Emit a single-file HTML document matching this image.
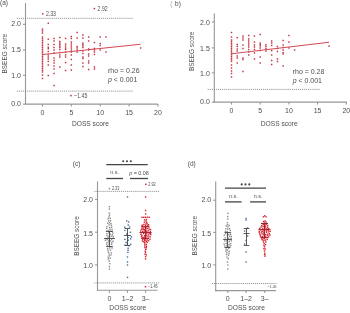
<!DOCTYPE html>
<html><head><meta charset="utf-8"><style>
html,body{margin:0;padding:0;background:#fff;width:350px;height:313px;overflow:hidden}
svg{display:block;filter:blur(0.3px)}
text{font-family:"Liberation Sans",sans-serif}
</style></head><body>
<svg width="350" height="313" viewBox="0 0 350 313">
<text font-size="7.5" text-anchor="start" fill="#4e4e4e" transform="translate(0.00,5.30) scale(0.875,1)">(a)</text>
<line x1="25.50" y1="3.00" x2="25.50" y2="104.65" stroke="#979797" stroke-width="1.1" />
<line x1="24.95" y1="104.10" x2="157.80" y2="104.10" stroke="#979797" stroke-width="1.1" />
<line x1="23.00" y1="24.30" x2="25.50" y2="24.30" stroke="#979797" stroke-width="1.1" />
<text font-size="8" text-anchor="end" fill="#4e4e4e" transform="translate(21.00,26.45) scale(0.875,1)">2.0</text>
<line x1="23.00" y1="50.00" x2="25.50" y2="50.00" stroke="#979797" stroke-width="1.1" />
<text font-size="8" text-anchor="end" fill="#4e4e4e" transform="translate(21.00,52.35) scale(0.875,1)">1.5</text>
<line x1="23.00" y1="75.20" x2="25.50" y2="75.20" stroke="#979797" stroke-width="1.1" />
<text font-size="8" text-anchor="end" fill="#4e4e4e" transform="translate(21.00,78.30) scale(0.875,1)">1.0</text>
<line x1="23.00" y1="104.10" x2="25.50" y2="104.10" stroke="#979797" stroke-width="1.1" />
<text font-size="8" text-anchor="end" fill="#4e4e4e" transform="translate(21.00,106.30) scale(0.875,1)">0.0</text>
<line x1="42.50" y1="104.10" x2="42.50" y2="106.60" stroke="#979797" stroke-width="1.1" />
<text font-size="8" text-anchor="middle" fill="#4e4e4e" transform="translate(42.50,115.20) scale(0.875,1)">0</text>
<line x1="71.35" y1="104.10" x2="71.35" y2="106.60" stroke="#979797" stroke-width="1.1" />
<text font-size="8" text-anchor="middle" fill="#4e4e4e" transform="translate(71.35,115.20) scale(0.875,1)">5</text>
<line x1="100.20" y1="104.10" x2="100.20" y2="106.60" stroke="#979797" stroke-width="1.1" />
<text font-size="8" text-anchor="middle" fill="#4e4e4e" transform="translate(100.20,115.20) scale(0.875,1)">10</text>
<line x1="129.05" y1="104.10" x2="129.05" y2="106.60" stroke="#979797" stroke-width="1.1" />
<text font-size="8" text-anchor="middle" fill="#4e4e4e" transform="translate(129.05,115.20) scale(0.875,1)">15</text>
<line x1="157.90" y1="104.10" x2="157.90" y2="106.60" stroke="#979797" stroke-width="1.1" />
<text font-size="8" text-anchor="middle" fill="#4e4e4e" transform="translate(157.90,115.20) scale(0.875,1)">20</text>
<line x1="16.80" y1="18.30" x2="133.00" y2="18.30" stroke="#8a8a8a" stroke-width="0.9" stroke-dasharray="1.15 0.9"/>
<line x1="16.80" y1="91.10" x2="133.00" y2="91.10" stroke="#8a8a8a" stroke-width="0.9" stroke-dasharray="1.15 0.9"/>
<rect x="41.78" y="28.48" width="1.44" height="1.44" fill="#c4303e"/>
<rect x="41.78" y="30.28" width="1.44" height="1.44" fill="#c4303e"/>
<rect x="41.78" y="32.28" width="1.44" height="1.44" fill="#c4303e"/>
<rect x="41.78" y="36.28" width="1.44" height="1.44" fill="#c4303e"/>
<rect x="41.78" y="38.03" width="1.44" height="1.44" fill="#c4303e"/>
<rect x="41.78" y="39.78" width="1.44" height="1.44" fill="#c4303e"/>
<rect x="41.78" y="41.53" width="1.44" height="1.44" fill="#c4303e"/>
<rect x="41.78" y="43.28" width="1.44" height="1.44" fill="#c4303e"/>
<rect x="41.78" y="45.03" width="1.44" height="1.44" fill="#c4303e"/>
<rect x="41.78" y="46.78" width="1.44" height="1.44" fill="#c4303e"/>
<rect x="41.78" y="48.53" width="1.44" height="1.44" fill="#c4303e"/>
<rect x="41.78" y="50.28" width="1.44" height="1.44" fill="#c4303e"/>
<rect x="41.78" y="52.03" width="1.44" height="1.44" fill="#c4303e"/>
<rect x="41.78" y="53.78" width="1.44" height="1.44" fill="#c4303e"/>
<rect x="41.78" y="55.53" width="1.44" height="1.44" fill="#c4303e"/>
<rect x="41.78" y="57.28" width="1.44" height="1.44" fill="#c4303e"/>
<rect x="41.78" y="59.03" width="1.44" height="1.44" fill="#c4303e"/>
<rect x="41.78" y="60.78" width="1.44" height="1.44" fill="#c4303e"/>
<rect x="41.78" y="62.53" width="1.44" height="1.44" fill="#c4303e"/>
<rect x="41.78" y="64.28" width="1.44" height="1.44" fill="#c4303e"/>
<rect x="41.78" y="66.03" width="1.44" height="1.44" fill="#c4303e"/>
<rect x="41.78" y="67.78" width="1.44" height="1.44" fill="#c4303e"/>
<rect x="41.78" y="69.53" width="1.44" height="1.44" fill="#c4303e"/>
<rect x="41.78" y="71.28" width="1.44" height="1.44" fill="#c4303e"/>
<rect x="41.78" y="74.28" width="1.44" height="1.44" fill="#c4303e"/>
<rect x="41.78" y="77.78" width="1.44" height="1.44" fill="#c4303e"/>
<rect x="47.55" y="22.48" width="1.44" height="1.44" fill="#c4303e"/>
<rect x="47.55" y="38.48" width="1.44" height="1.44" fill="#c4303e"/>
<rect x="47.55" y="43.78" width="1.44" height="1.44" fill="#c4303e"/>
<rect x="47.55" y="46.58" width="1.44" height="1.44" fill="#c4303e"/>
<rect x="47.55" y="47.98" width="1.44" height="1.44" fill="#c4303e"/>
<rect x="47.55" y="50.78" width="1.44" height="1.44" fill="#c4303e"/>
<rect x="47.55" y="54.28" width="1.44" height="1.44" fill="#c4303e"/>
<rect x="47.55" y="56.28" width="1.44" height="1.44" fill="#c4303e"/>
<rect x="47.55" y="58.28" width="1.44" height="1.44" fill="#c4303e"/>
<rect x="47.55" y="60.78" width="1.44" height="1.44" fill="#c4303e"/>
<rect x="47.55" y="64.28" width="1.44" height="1.44" fill="#c4303e"/>
<rect x="47.55" y="74.78" width="1.44" height="1.44" fill="#c4303e"/>
<rect x="53.32" y="37.78" width="1.44" height="1.44" fill="#c4303e"/>
<rect x="53.32" y="40.28" width="1.44" height="1.44" fill="#c4303e"/>
<rect x="53.32" y="43.78" width="1.44" height="1.44" fill="#c4303e"/>
<rect x="53.32" y="46.78" width="1.44" height="1.44" fill="#c4303e"/>
<rect x="53.32" y="49.28" width="1.44" height="1.44" fill="#c4303e"/>
<rect x="53.32" y="52.28" width="1.44" height="1.44" fill="#c4303e"/>
<rect x="53.32" y="57.28" width="1.44" height="1.44" fill="#c4303e"/>
<rect x="53.32" y="59.78" width="1.44" height="1.44" fill="#c4303e"/>
<rect x="53.32" y="62.28" width="1.44" height="1.44" fill="#c4303e"/>
<rect x="53.32" y="65.28" width="1.44" height="1.44" fill="#c4303e"/>
<rect x="53.32" y="68.28" width="1.44" height="1.44" fill="#c4303e"/>
<rect x="53.32" y="72.78" width="1.44" height="1.44" fill="#c4303e"/>
<rect x="53.32" y="84.78" width="1.44" height="1.44" fill="#c4303e"/>
<rect x="59.09" y="36.78" width="1.44" height="1.44" fill="#c4303e"/>
<rect x="59.09" y="40.78" width="1.44" height="1.44" fill="#c4303e"/>
<rect x="59.09" y="42.28" width="1.44" height="1.44" fill="#c4303e"/>
<rect x="59.09" y="43.78" width="1.44" height="1.44" fill="#c4303e"/>
<rect x="59.09" y="45.28" width="1.44" height="1.44" fill="#c4303e"/>
<rect x="59.09" y="46.78" width="1.44" height="1.44" fill="#c4303e"/>
<rect x="59.09" y="48.78" width="1.44" height="1.44" fill="#c4303e"/>
<rect x="59.09" y="51.78" width="1.44" height="1.44" fill="#c4303e"/>
<rect x="59.09" y="54.28" width="1.44" height="1.44" fill="#c4303e"/>
<rect x="59.09" y="56.28" width="1.44" height="1.44" fill="#c4303e"/>
<rect x="59.09" y="66.28" width="1.44" height="1.44" fill="#c4303e"/>
<rect x="64.86" y="37.68" width="1.44" height="1.44" fill="#c4303e"/>
<rect x="64.86" y="43.28" width="1.44" height="1.44" fill="#c4303e"/>
<rect x="64.86" y="45.28" width="1.44" height="1.44" fill="#c4303e"/>
<rect x="64.86" y="47.28" width="1.44" height="1.44" fill="#c4303e"/>
<rect x="64.86" y="48.78" width="1.44" height="1.44" fill="#c4303e"/>
<rect x="64.86" y="51.28" width="1.44" height="1.44" fill="#c4303e"/>
<rect x="64.86" y="54.28" width="1.44" height="1.44" fill="#c4303e"/>
<rect x="64.86" y="56.28" width="1.44" height="1.44" fill="#c4303e"/>
<rect x="64.86" y="61.78" width="1.44" height="1.44" fill="#c4303e"/>
<rect x="64.86" y="69.78" width="1.44" height="1.44" fill="#c4303e"/>
<rect x="70.63" y="35.78" width="1.44" height="1.44" fill="#c4303e"/>
<rect x="70.63" y="37.78" width="1.44" height="1.44" fill="#c4303e"/>
<rect x="70.63" y="41.28" width="1.44" height="1.44" fill="#c4303e"/>
<rect x="70.63" y="43.28" width="1.44" height="1.44" fill="#c4303e"/>
<rect x="70.63" y="45.28" width="1.44" height="1.44" fill="#c4303e"/>
<rect x="70.63" y="47.28" width="1.44" height="1.44" fill="#c4303e"/>
<rect x="70.63" y="49.28" width="1.44" height="1.44" fill="#c4303e"/>
<rect x="70.63" y="51.28" width="1.44" height="1.44" fill="#c4303e"/>
<rect x="70.63" y="54.28" width="1.44" height="1.44" fill="#c4303e"/>
<rect x="70.63" y="58.78" width="1.44" height="1.44" fill="#c4303e"/>
<rect x="70.63" y="64.28" width="1.44" height="1.44" fill="#c4303e"/>
<rect x="70.63" y="69.28" width="1.44" height="1.44" fill="#c4303e"/>
<rect x="76.40" y="31.78" width="1.44" height="1.44" fill="#c4303e"/>
<rect x="76.40" y="37.28" width="1.44" height="1.44" fill="#c4303e"/>
<rect x="76.40" y="45.78" width="1.44" height="1.44" fill="#c4303e"/>
<rect x="76.40" y="47.28" width="1.44" height="1.44" fill="#c4303e"/>
<rect x="76.40" y="49.28" width="1.44" height="1.44" fill="#c4303e"/>
<rect x="76.40" y="51.28" width="1.44" height="1.44" fill="#c4303e"/>
<rect x="82.17" y="34.28" width="1.44" height="1.44" fill="#c4303e"/>
<rect x="82.17" y="37.28" width="1.44" height="1.44" fill="#c4303e"/>
<rect x="82.17" y="42.28" width="1.44" height="1.44" fill="#c4303e"/>
<rect x="82.17" y="43.78" width="1.44" height="1.44" fill="#c4303e"/>
<rect x="82.17" y="45.28" width="1.44" height="1.44" fill="#c4303e"/>
<rect x="82.17" y="46.78" width="1.44" height="1.44" fill="#c4303e"/>
<rect x="82.17" y="50.28" width="1.44" height="1.44" fill="#c4303e"/>
<rect x="82.17" y="52.78" width="1.44" height="1.44" fill="#c4303e"/>
<rect x="82.17" y="56.28" width="1.44" height="1.44" fill="#c4303e"/>
<rect x="82.17" y="57.78" width="1.44" height="1.44" fill="#c4303e"/>
<rect x="82.17" y="62.28" width="1.44" height="1.44" fill="#c4303e"/>
<rect x="82.17" y="65.78" width="1.44" height="1.44" fill="#c4303e"/>
<rect x="87.94" y="36.28" width="1.44" height="1.44" fill="#c4303e"/>
<rect x="87.94" y="40.28" width="1.44" height="1.44" fill="#c4303e"/>
<rect x="87.94" y="48.28" width="1.44" height="1.44" fill="#c4303e"/>
<rect x="87.94" y="49.28" width="1.44" height="1.44" fill="#c4303e"/>
<rect x="87.94" y="53.28" width="1.44" height="1.44" fill="#c4303e"/>
<rect x="87.94" y="55.28" width="1.44" height="1.44" fill="#c4303e"/>
<rect x="87.94" y="60.28" width="1.44" height="1.44" fill="#c4303e"/>
<rect x="87.94" y="62.28" width="1.44" height="1.44" fill="#c4303e"/>
<rect x="87.94" y="68.78" width="1.44" height="1.44" fill="#c4303e"/>
<rect x="93.71" y="41.78" width="1.44" height="1.44" fill="#c4303e"/>
<rect x="93.71" y="47.78" width="1.44" height="1.44" fill="#c4303e"/>
<rect x="93.71" y="49.28" width="1.44" height="1.44" fill="#c4303e"/>
<rect x="93.71" y="51.28" width="1.44" height="1.44" fill="#c4303e"/>
<rect x="93.71" y="53.78" width="1.44" height="1.44" fill="#c4303e"/>
<rect x="93.71" y="66.28" width="1.44" height="1.44" fill="#c4303e"/>
<rect x="93.71" y="68.28" width="1.44" height="1.44" fill="#c4303e"/>
<rect x="99.48" y="36.28" width="1.44" height="1.44" fill="#c4303e"/>
<rect x="99.48" y="42.78" width="1.44" height="1.44" fill="#c4303e"/>
<rect x="99.48" y="44.78" width="1.44" height="1.44" fill="#c4303e"/>
<rect x="99.48" y="49.28" width="1.44" height="1.44" fill="#c4303e"/>
<rect x="105.25" y="36.28" width="1.44" height="1.44" fill="#c4303e"/>
<rect x="105.25" y="51.28" width="1.44" height="1.44" fill="#c4303e"/>
<rect x="139.87" y="47.28" width="1.44" height="1.44" fill="#c4303e"/>
<line x1="42.50" y1="54.50" x2="140.59" y2="44.30" stroke="#d44a55" stroke-width="1.05" />
<rect x="41.95" y="13.05" width="1.50" height="1.50" fill="#c4303e"/>
<text font-size="6.5" text-anchor="start" fill="#4e4e4e" transform="translate(45.90,16.00) scale(0.8,1)">2.33</text>
<rect x="93.65" y="7.85" width="1.50" height="1.50" fill="#c4303e"/>
<text font-size="6.5" text-anchor="start" fill="#4e4e4e" transform="translate(97.60,10.80) scale(0.8,1)">2.92</text>
<rect x="70.25" y="94.85" width="1.50" height="1.50" fill="#c4303e"/>
<text font-size="6.5" text-anchor="start" fill="#4e4e4e" transform="translate(74.20,97.80) scale(0.8,1)">−1.45</text>
<text font-size="7.5" text-anchor="start" fill="#4e4e4e" transform="translate(108.00,73.30) scale(0.93,1)">rho = 0.26</text>
<text font-size="7.5" text-anchor="start" fill="#4e4e4e" transform="translate(108.00,81.60) scale(0.93,1)"><tspan font-style="italic">p</tspan> &lt; 0.001</text>
<text font-size="8" text-anchor="middle" fill="#4e4e4e" transform="translate(7.20,53.70) rotate(-90) scale(0.8,1)">BSEEG score</text>
<text font-size="8" text-anchor="middle" fill="#4e4e4e" transform="translate(90.40,126.20) scale(0.83,1)">DOSS score</text>
<text font-size="7.5" text-anchor="start" fill="#aaaaaa" transform="translate(170.30,5.60) scale(0.875,1)">(</text>
<text font-size="7.5" text-anchor="start" fill="#4e4e4e" transform="translate(175.00,5.60) scale(0.875,1)">b)</text>
<line x1="214.30" y1="13.40" x2="214.30" y2="102.65" stroke="#979797" stroke-width="1.1" />
<line x1="213.75" y1="102.10" x2="346.80" y2="102.10" stroke="#979797" stroke-width="1.1" />
<line x1="211.80" y1="22.00" x2="214.30" y2="22.00" stroke="#979797" stroke-width="1.1" />
<text font-size="8" text-anchor="end" fill="#4e4e4e" transform="translate(209.80,24.90) scale(0.875,1)">2.0</text>
<line x1="211.80" y1="47.90" x2="214.30" y2="47.90" stroke="#979797" stroke-width="1.1" />
<text font-size="8" text-anchor="end" fill="#4e4e4e" transform="translate(209.80,50.50) scale(0.875,1)">1.5</text>
<line x1="211.80" y1="72.90" x2="214.30" y2="72.90" stroke="#979797" stroke-width="1.1" />
<text font-size="8" text-anchor="end" fill="#4e4e4e" transform="translate(209.80,76.30) scale(0.875,1)">1.0</text>
<line x1="211.80" y1="102.10" x2="214.30" y2="102.10" stroke="#979797" stroke-width="1.1" />
<text font-size="8" text-anchor="end" fill="#4e4e4e" transform="translate(209.80,104.30) scale(0.875,1)">0.0</text>
<line x1="231.50" y1="102.10" x2="231.50" y2="104.60" stroke="#979797" stroke-width="1.1" />
<text font-size="8" text-anchor="middle" fill="#4e4e4e" transform="translate(231.50,113.20) scale(0.875,1)">0</text>
<line x1="260.20" y1="102.10" x2="260.20" y2="104.60" stroke="#979797" stroke-width="1.1" />
<text font-size="8" text-anchor="middle" fill="#4e4e4e" transform="translate(260.20,113.20) scale(0.875,1)">5</text>
<line x1="288.90" y1="102.10" x2="288.90" y2="104.60" stroke="#979797" stroke-width="1.1" />
<text font-size="8" text-anchor="middle" fill="#4e4e4e" transform="translate(288.90,113.20) scale(0.875,1)">10</text>
<line x1="317.60" y1="102.10" x2="317.60" y2="104.60" stroke="#979797" stroke-width="1.1" />
<text font-size="8" text-anchor="middle" fill="#4e4e4e" transform="translate(317.60,113.20) scale(0.875,1)">15</text>
<line x1="346.30" y1="102.10" x2="346.30" y2="104.60" stroke="#979797" stroke-width="1.1" />
<text font-size="8" text-anchor="middle" fill="#4e4e4e" transform="translate(346.30,113.20) scale(0.875,1)">20</text>
<line x1="207.70" y1="89.40" x2="320.00" y2="89.40" stroke="#8a8a8a" stroke-width="0.9" stroke-dasharray="1.15 0.9"/>
<rect x="230.78" y="31.78" width="1.44" height="1.44" fill="#c4303e"/>
<rect x="230.78" y="36.28" width="1.44" height="1.44" fill="#c4303e"/>
<rect x="230.78" y="39.28" width="1.44" height="1.44" fill="#c4303e"/>
<rect x="230.78" y="40.93" width="1.44" height="1.44" fill="#c4303e"/>
<rect x="230.78" y="42.58" width="1.44" height="1.44" fill="#c4303e"/>
<rect x="230.78" y="44.23" width="1.44" height="1.44" fill="#c4303e"/>
<rect x="230.78" y="45.88" width="1.44" height="1.44" fill="#c4303e"/>
<rect x="230.78" y="47.53" width="1.44" height="1.44" fill="#c4303e"/>
<rect x="230.78" y="49.18" width="1.44" height="1.44" fill="#c4303e"/>
<rect x="230.78" y="50.83" width="1.44" height="1.44" fill="#c4303e"/>
<rect x="230.78" y="52.48" width="1.44" height="1.44" fill="#c4303e"/>
<rect x="230.78" y="54.13" width="1.44" height="1.44" fill="#c4303e"/>
<rect x="230.78" y="55.78" width="1.44" height="1.44" fill="#c4303e"/>
<rect x="230.78" y="57.43" width="1.44" height="1.44" fill="#c4303e"/>
<rect x="230.78" y="59.08" width="1.44" height="1.44" fill="#c4303e"/>
<rect x="230.78" y="60.73" width="1.44" height="1.44" fill="#c4303e"/>
<rect x="230.78" y="64.28" width="1.44" height="1.44" fill="#c4303e"/>
<rect x="230.78" y="67.28" width="1.44" height="1.44" fill="#c4303e"/>
<rect x="230.78" y="70.28" width="1.44" height="1.44" fill="#c4303e"/>
<rect x="230.78" y="72.78" width="1.44" height="1.44" fill="#c4303e"/>
<rect x="230.78" y="76.28" width="1.44" height="1.44" fill="#c4303e"/>
<rect x="236.52" y="36.98" width="1.44" height="1.44" fill="#c4303e"/>
<rect x="236.52" y="43.78" width="1.44" height="1.44" fill="#c4303e"/>
<rect x="236.52" y="45.78" width="1.44" height="1.44" fill="#c4303e"/>
<rect x="236.52" y="48.28" width="1.44" height="1.44" fill="#c4303e"/>
<rect x="236.52" y="50.28" width="1.44" height="1.44" fill="#c4303e"/>
<rect x="236.52" y="55.28" width="1.44" height="1.44" fill="#c4303e"/>
<rect x="236.52" y="57.28" width="1.44" height="1.44" fill="#c4303e"/>
<rect x="236.52" y="62.28" width="1.44" height="1.44" fill="#c4303e"/>
<rect x="242.26" y="35.28" width="1.44" height="1.44" fill="#c4303e"/>
<rect x="242.26" y="37.28" width="1.44" height="1.44" fill="#c4303e"/>
<rect x="242.26" y="39.28" width="1.44" height="1.44" fill="#c4303e"/>
<rect x="242.26" y="44.28" width="1.44" height="1.44" fill="#c4303e"/>
<rect x="242.26" y="47.78" width="1.44" height="1.44" fill="#c4303e"/>
<rect x="242.26" y="57.28" width="1.44" height="1.44" fill="#c4303e"/>
<rect x="242.26" y="58.78" width="1.44" height="1.44" fill="#c4303e"/>
<rect x="242.26" y="70.78" width="1.44" height="1.44" fill="#c4303e"/>
<rect x="248.00" y="34.78" width="1.44" height="1.44" fill="#c4303e"/>
<rect x="248.00" y="38.28" width="1.44" height="1.44" fill="#c4303e"/>
<rect x="248.00" y="40.28" width="1.44" height="1.44" fill="#c4303e"/>
<rect x="248.00" y="42.28" width="1.44" height="1.44" fill="#c4303e"/>
<rect x="248.00" y="44.28" width="1.44" height="1.44" fill="#c4303e"/>
<rect x="248.00" y="46.28" width="1.44" height="1.44" fill="#c4303e"/>
<rect x="248.00" y="48.78" width="1.44" height="1.44" fill="#c4303e"/>
<rect x="248.00" y="51.28" width="1.44" height="1.44" fill="#c4303e"/>
<rect x="248.00" y="54.28" width="1.44" height="1.44" fill="#c4303e"/>
<rect x="253.74" y="35.28" width="1.44" height="1.44" fill="#c4303e"/>
<rect x="253.74" y="41.28" width="1.44" height="1.44" fill="#c4303e"/>
<rect x="253.74" y="44.28" width="1.44" height="1.44" fill="#c4303e"/>
<rect x="253.74" y="46.28" width="1.44" height="1.44" fill="#c4303e"/>
<rect x="253.74" y="48.78" width="1.44" height="1.44" fill="#c4303e"/>
<rect x="253.74" y="52.28" width="1.44" height="1.44" fill="#c4303e"/>
<rect x="253.74" y="58.28" width="1.44" height="1.44" fill="#c4303e"/>
<rect x="259.48" y="33.78" width="1.44" height="1.44" fill="#c4303e"/>
<rect x="259.48" y="42.28" width="1.44" height="1.44" fill="#c4303e"/>
<rect x="259.48" y="43.78" width="1.44" height="1.44" fill="#c4303e"/>
<rect x="259.48" y="45.28" width="1.44" height="1.44" fill="#c4303e"/>
<rect x="259.48" y="47.28" width="1.44" height="1.44" fill="#c4303e"/>
<rect x="259.48" y="49.78" width="1.44" height="1.44" fill="#c4303e"/>
<rect x="259.48" y="56.28" width="1.44" height="1.44" fill="#c4303e"/>
<rect x="259.48" y="62.28" width="1.44" height="1.44" fill="#c4303e"/>
<rect x="265.22" y="44.08" width="1.44" height="1.44" fill="#c4303e"/>
<rect x="265.22" y="45.78" width="1.44" height="1.44" fill="#c4303e"/>
<rect x="265.22" y="47.78" width="1.44" height="1.44" fill="#c4303e"/>
<rect x="265.22" y="50.28" width="1.44" height="1.44" fill="#c4303e"/>
<rect x="270.96" y="40.28" width="1.44" height="1.44" fill="#c4303e"/>
<rect x="270.96" y="42.28" width="1.44" height="1.44" fill="#c4303e"/>
<rect x="270.96" y="44.78" width="1.44" height="1.44" fill="#c4303e"/>
<rect x="270.96" y="49.78" width="1.44" height="1.44" fill="#c4303e"/>
<rect x="270.96" y="54.28" width="1.44" height="1.44" fill="#c4303e"/>
<rect x="270.96" y="59.78" width="1.44" height="1.44" fill="#c4303e"/>
<rect x="270.96" y="63.78" width="1.44" height="1.44" fill="#c4303e"/>
<rect x="276.70" y="45.78" width="1.44" height="1.44" fill="#c4303e"/>
<rect x="276.70" y="47.78" width="1.44" height="1.44" fill="#c4303e"/>
<rect x="276.70" y="50.78" width="1.44" height="1.44" fill="#c4303e"/>
<rect x="276.70" y="58.28" width="1.44" height="1.44" fill="#c4303e"/>
<rect x="276.70" y="60.78" width="1.44" height="1.44" fill="#c4303e"/>
<rect x="282.44" y="39.78" width="1.44" height="1.44" fill="#c4303e"/>
<rect x="282.44" y="44.28" width="1.44" height="1.44" fill="#c4303e"/>
<rect x="282.44" y="46.78" width="1.44" height="1.44" fill="#c4303e"/>
<rect x="282.44" y="49.28" width="1.44" height="1.44" fill="#c4303e"/>
<rect x="282.44" y="51.78" width="1.44" height="1.44" fill="#c4303e"/>
<rect x="282.44" y="53.28" width="1.44" height="1.44" fill="#c4303e"/>
<rect x="282.44" y="65.28" width="1.44" height="1.44" fill="#c4303e"/>
<rect x="288.18" y="34.78" width="1.44" height="1.44" fill="#c4303e"/>
<rect x="288.18" y="41.28" width="1.44" height="1.44" fill="#c4303e"/>
<rect x="288.18" y="47.28" width="1.44" height="1.44" fill="#c4303e"/>
<rect x="293.92" y="49.28" width="1.44" height="1.44" fill="#c4303e"/>
<rect x="328.36" y="45.38" width="1.44" height="1.44" fill="#c4303e"/>
<line x1="231.50" y1="53.80" x2="329.08" y2="42.30" stroke="#d44a55" stroke-width="1.05" />
<text font-size="7.5" text-anchor="start" fill="#4e4e4e" transform="translate(292.70,74.30) scale(0.93,1)">rho = 0.28</text>
<text font-size="7.5" text-anchor="start" fill="#4e4e4e" transform="translate(292.70,83.10) scale(0.93,1)"><tspan font-style="italic">p</tspan> &lt; 0.001</text>
<text font-size="8" text-anchor="middle" fill="#4e4e4e" transform="translate(194.20,51.30) rotate(-90) scale(0.8,1)">BSEEG score</text>
<text font-size="8" text-anchor="middle" fill="#4e4e4e" transform="translate(279.20,126.20) scale(0.83,1)">DOSS score</text>
<text font-size="7.5" text-anchor="start" fill="#4e4e4e" transform="translate(72.80,165.60) scale(0.875,1)">(c)</text>
<line x1="97.50" y1="181.40" x2="97.50" y2="290.85" stroke="#979797" stroke-width="1.1" />
<line x1="96.95" y1="290.30" x2="157.60" y2="290.30" stroke="#979797" stroke-width="1.1" />
<line x1="95.00" y1="199.50" x2="97.50" y2="199.50" stroke="#979797" stroke-width="1.1" />
<text font-size="8" text-anchor="end" fill="#4e4e4e" transform="translate(93.00,202.45) scale(0.875,1)">2.0</text>
<line x1="95.00" y1="232.20" x2="97.50" y2="232.20" stroke="#979797" stroke-width="1.1" />
<text font-size="8" text-anchor="end" fill="#4e4e4e" transform="translate(93.00,235.65) scale(0.875,1)">1.5</text>
<line x1="95.00" y1="264.90" x2="97.50" y2="264.90" stroke="#979797" stroke-width="1.1" />
<text font-size="8" text-anchor="end" fill="#4e4e4e" transform="translate(93.00,267.95) scale(0.875,1)">1.0</text>
<line x1="109.40" y1="290.30" x2="109.40" y2="292.80" stroke="#979797" stroke-width="1.1" />
<text font-size="8" text-anchor="middle" fill="#4e4e4e" transform="translate(109.40,300.70) scale(0.875,1)">0</text>
<line x1="127.50" y1="290.30" x2="127.50" y2="292.80" stroke="#979797" stroke-width="1.1" />
<text font-size="8" text-anchor="middle" fill="#4e4e4e" transform="translate(127.50,300.70) scale(0.875,1)">1–2</text>
<line x1="145.60" y1="290.30" x2="145.60" y2="292.80" stroke="#979797" stroke-width="1.1" />
<text font-size="8" text-anchor="middle" fill="#4e4e4e" transform="translate(145.60,300.70) scale(0.875,1)">3–</text>
<line x1="94.30" y1="191.40" x2="159.50" y2="191.40" stroke="#8a8a8a" stroke-width="0.9" stroke-dasharray="1.15 0.9"/>
<line x1="94.30" y1="282.90" x2="159.00" y2="282.90" stroke="#8a8a8a" stroke-width="0.9" stroke-dasharray="1.15 0.9"/>
<line x1="145.50" y1="226.50" x2="145.50" y2="238.50" stroke="#5a1a1e" stroke-width="0.9" />
<line x1="142.00" y1="226.50" x2="149.00" y2="226.50" stroke="#5a1a1e" stroke-width="0.9" />
<line x1="142.00" y1="238.50" x2="149.00" y2="238.50" stroke="#5a1a1e" stroke-width="0.9" />
<line x1="139.50" y1="232.50" x2="151.50" y2="232.50" stroke="#5a1a1e" stroke-width="0.9" />
<rect x="108.70" y="206.00" width="1.40" height="1.40" fill="#8c8c8c"/>
<rect x="108.70" y="208.30" width="1.40" height="1.40" fill="#8c8c8c"/>
<rect x="108.70" y="212.60" width="1.40" height="1.40" fill="#8c8c8c"/>
<rect x="108.70" y="265.80" width="1.40" height="1.40" fill="#8c8c8c"/>
<rect x="108.70" y="268.30" width="1.40" height="1.40" fill="#8c8c8c"/>
<rect x="109.79" y="220.02" width="1.40" height="1.40" fill="#8c8c8c"/>
<rect x="107.67" y="251.49" width="1.40" height="1.40" fill="#8c8c8c"/>
<rect x="108.30" y="238.07" width="1.40" height="1.40" fill="#8c8c8c"/>
<rect x="110.48" y="245.88" width="1.40" height="1.40" fill="#8c8c8c"/>
<rect x="107.48" y="217.99" width="1.40" height="1.40" fill="#8c8c8c"/>
<rect x="108.49" y="255.09" width="1.40" height="1.40" fill="#8c8c8c"/>
<rect x="110.47" y="235.57" width="1.40" height="1.40" fill="#8c8c8c"/>
<rect x="110.74" y="224.74" width="1.40" height="1.40" fill="#8c8c8c"/>
<rect x="107.64" y="258.37" width="1.40" height="1.40" fill="#8c8c8c"/>
<rect x="108.76" y="214.57" width="1.40" height="1.40" fill="#8c8c8c"/>
<rect x="108.49" y="260.26" width="1.40" height="1.40" fill="#8c8c8c"/>
<rect x="108.36" y="224.13" width="1.40" height="1.40" fill="#8c8c8c"/>
<rect x="108.67" y="235.19" width="1.40" height="1.40" fill="#8c8c8c"/>
<rect x="105.93" y="227.79" width="1.40" height="1.40" fill="#8c8c8c"/>
<rect x="106.70" y="245.41" width="1.40" height="1.40" fill="#8c8c8c"/>
<rect x="109.09" y="262.93" width="1.40" height="1.40" fill="#8c8c8c"/>
<rect x="109.74" y="249.37" width="1.40" height="1.40" fill="#8c8c8c"/>
<rect x="109.23" y="228.47" width="1.40" height="1.40" fill="#8c8c8c"/>
<rect x="109.57" y="257.42" width="1.40" height="1.40" fill="#8c8c8c"/>
<rect x="108.39" y="253.17" width="1.40" height="1.40" fill="#8c8c8c"/>
<rect x="108.88" y="221.95" width="1.40" height="1.40" fill="#8c8c8c"/>
<rect x="108.26" y="232.04" width="1.40" height="1.40" fill="#8c8c8c"/>
<rect x="110.93" y="238.72" width="1.40" height="1.40" fill="#8c8c8c"/>
<rect x="104.94" y="237.78" width="1.40" height="1.40" fill="#8c8c8c"/>
<rect x="106.27" y="232.98" width="1.40" height="1.40" fill="#8c8c8c"/>
<rect x="108.39" y="242.19" width="1.40" height="1.40" fill="#8c8c8c"/>
<rect x="108.96" y="226.76" width="1.40" height="1.40" fill="#8c8c8c"/>
<rect x="106.36" y="241.80" width="1.40" height="1.40" fill="#8c8c8c"/>
<rect x="109.69" y="240.22" width="1.40" height="1.40" fill="#8c8c8c"/>
<rect x="108.41" y="243.92" width="1.40" height="1.40" fill="#8c8c8c"/>
<rect x="105.80" y="230.52" width="1.40" height="1.40" fill="#8c8c8c"/>
<rect x="106.37" y="238.81" width="1.40" height="1.40" fill="#8c8c8c"/>
<rect x="110.95" y="243.58" width="1.40" height="1.40" fill="#8c8c8c"/>
<rect x="108.95" y="247.21" width="1.40" height="1.40" fill="#8c8c8c"/>
<rect x="108.29" y="216.24" width="1.40" height="1.40" fill="#8c8c8c"/>
<rect x="111.43" y="228.82" width="1.40" height="1.40" fill="#8c8c8c"/>
<rect x="106.22" y="225.92" width="1.40" height="1.40" fill="#8c8c8c"/>
<rect x="110.24" y="254.27" width="1.40" height="1.40" fill="#8c8c8c"/>
<rect x="106.28" y="234.95" width="1.40" height="1.40" fill="#8c8c8c"/>
<rect x="112.58" y="237.52" width="1.40" height="1.40" fill="#8c8c8c"/>
<rect x="109.47" y="230.34" width="1.40" height="1.40" fill="#8c8c8c"/>
<rect x="112.08" y="232.21" width="1.40" height="1.40" fill="#8c8c8c"/>
<rect x="110.64" y="252.11" width="1.40" height="1.40" fill="#8c8c8c"/>
<rect x="106.95" y="247.78" width="1.40" height="1.40" fill="#8c8c8c"/>
<rect x="109.54" y="233.35" width="1.40" height="1.40" fill="#8c8c8c"/>
<rect x="110.91" y="226.68" width="1.40" height="1.40" fill="#8c8c8c"/>
<rect x="112.42" y="240.56" width="1.40" height="1.40" fill="#8c8c8c"/>
<rect x="104.71" y="239.72" width="1.40" height="1.40" fill="#8c8c8c"/>
<rect x="107.00" y="222.64" width="1.40" height="1.40" fill="#8c8c8c"/>
<rect x="107.65" y="229.81" width="1.40" height="1.40" fill="#8c8c8c"/>
<rect x="111.68" y="234.13" width="1.40" height="1.40" fill="#8c8c8c"/>
<rect x="107.92" y="220.31" width="1.40" height="1.40" fill="#8c8c8c"/>
<rect x="111.41" y="247.33" width="1.40" height="1.40" fill="#8c8c8c"/>
<rect x="107.85" y="240.09" width="1.40" height="1.40" fill="#8c8c8c"/>
<rect x="109.52" y="217.73" width="1.40" height="1.40" fill="#8c8c8c"/>
<rect x="107.33" y="249.46" width="1.40" height="1.40" fill="#8c8c8c"/>
<rect x="107.54" y="256.61" width="1.40" height="1.40" fill="#8c8c8c"/>
<rect x="105.96" y="243.55" width="1.40" height="1.40" fill="#8c8c8c"/>
<rect x="110.30" y="223.03" width="1.40" height="1.40" fill="#8c8c8c"/>
<rect x="111.21" y="230.65" width="1.40" height="1.40" fill="#8c8c8c"/>
<rect x="111.16" y="241.87" width="1.40" height="1.40" fill="#8c8c8c"/>
<rect x="107.35" y="236.59" width="1.40" height="1.40" fill="#8c8c8c"/>
<rect x="112.50" y="235.80" width="1.40" height="1.40" fill="#8c8c8c"/>
<rect x="126.80" y="196.30" width="1.40" height="1.40" fill="#47709f"/>
<rect x="126.80" y="256.30" width="1.40" height="1.40" fill="#47709f"/>
<rect x="126.80" y="261.30" width="1.40" height="1.40" fill="#47709f"/>
<rect x="126.80" y="264.30" width="1.40" height="1.40" fill="#47709f"/>
<rect x="126.80" y="276.70" width="1.40" height="1.40" fill="#47709f"/>
<rect x="127.19" y="251.76" width="1.40" height="1.40" fill="#47709f"/>
<rect x="125.99" y="220.28" width="1.40" height="1.40" fill="#47709f"/>
<rect x="127.43" y="247.54" width="1.40" height="1.40" fill="#47709f"/>
<rect x="125.45" y="241.74" width="1.40" height="1.40" fill="#47709f"/>
<rect x="127.59" y="239.51" width="1.40" height="1.40" fill="#47709f"/>
<rect x="124.24" y="238.64" width="1.40" height="1.40" fill="#47709f"/>
<rect x="125.98" y="233.37" width="1.40" height="1.40" fill="#47709f"/>
<rect x="130.01" y="243.61" width="1.40" height="1.40" fill="#47709f"/>
<rect x="129.69" y="231.60" width="1.40" height="1.40" fill="#47709f"/>
<rect x="127.27" y="236.70" width="1.40" height="1.40" fill="#47709f"/>
<rect x="124.12" y="226.56" width="1.40" height="1.40" fill="#47709f"/>
<rect x="124.24" y="229.68" width="1.40" height="1.40" fill="#47709f"/>
<rect x="130.73" y="236.16" width="1.40" height="1.40" fill="#47709f"/>
<rect x="127.33" y="249.58" width="1.40" height="1.40" fill="#47709f"/>
<rect x="128.28" y="245.00" width="1.40" height="1.40" fill="#47709f"/>
<rect x="129.98" y="238.17" width="1.40" height="1.40" fill="#47709f"/>
<rect x="126.71" y="243.63" width="1.40" height="1.40" fill="#47709f"/>
<rect x="124.27" y="244.37" width="1.40" height="1.40" fill="#47709f"/>
<rect x="128.83" y="226.23" width="1.40" height="1.40" fill="#47709f"/>
<rect x="127.51" y="224.32" width="1.40" height="1.40" fill="#47709f"/>
<rect x="127.89" y="221.20" width="1.40" height="1.40" fill="#47709f"/>
<rect x="144.90" y="196.30" width="1.40" height="1.40" fill="#d6222e"/>
<rect x="144.90" y="209.80" width="1.40" height="1.40" fill="#d6222e"/>
<rect x="144.90" y="213.30" width="1.40" height="1.40" fill="#d6222e"/>
<rect x="141.30" y="216.60" width="1.40" height="1.40" fill="#d6222e"/>
<rect x="143.10" y="216.60" width="1.40" height="1.40" fill="#d6222e"/>
<rect x="144.90" y="216.60" width="1.40" height="1.40" fill="#d6222e"/>
<rect x="146.70" y="216.60" width="1.40" height="1.40" fill="#d6222e"/>
<rect x="148.50" y="216.60" width="1.40" height="1.40" fill="#d6222e"/>
<rect x="145.32" y="227.82" width="1.40" height="1.40" fill="#d6222e"/>
<rect x="145.98" y="233.10" width="1.40" height="1.40" fill="#d6222e"/>
<rect x="144.04" y="243.33" width="1.40" height="1.40" fill="#d6222e"/>
<rect x="145.65" y="218.83" width="1.40" height="1.40" fill="#d6222e"/>
<rect x="142.25" y="228.67" width="1.40" height="1.40" fill="#d6222e"/>
<rect x="144.86" y="258.13" width="1.40" height="1.40" fill="#d6222e"/>
<rect x="144.86" y="251.76" width="1.40" height="1.40" fill="#d6222e"/>
<rect x="145.62" y="243.69" width="1.40" height="1.40" fill="#d6222e"/>
<rect x="146.79" y="239.23" width="1.40" height="1.40" fill="#d6222e"/>
<rect x="144.08" y="245.16" width="1.40" height="1.40" fill="#d6222e"/>
<rect x="145.05" y="248.63" width="1.40" height="1.40" fill="#d6222e"/>
<rect x="140.02" y="230.35" width="1.40" height="1.40" fill="#d6222e"/>
<rect x="145.57" y="247.05" width="1.40" height="1.40" fill="#d6222e"/>
<rect x="148.03" y="234.10" width="1.40" height="1.40" fill="#d6222e"/>
<rect x="149.43" y="236.08" width="1.40" height="1.40" fill="#d6222e"/>
<rect x="144.32" y="253.45" width="1.40" height="1.40" fill="#d6222e"/>
<rect x="143.25" y="223.74" width="1.40" height="1.40" fill="#d6222e"/>
<rect x="143.91" y="238.59" width="1.40" height="1.40" fill="#d6222e"/>
<rect x="146.51" y="241.67" width="1.40" height="1.40" fill="#d6222e"/>
<rect x="145.70" y="245.58" width="1.40" height="1.40" fill="#d6222e"/>
<rect x="146.14" y="221.84" width="1.40" height="1.40" fill="#d6222e"/>
<rect x="141.27" y="234.72" width="1.40" height="1.40" fill="#d6222e"/>
<rect x="147.70" y="230.06" width="1.40" height="1.40" fill="#d6222e"/>
<rect x="149.28" y="238.52" width="1.40" height="1.40" fill="#d6222e"/>
<rect x="144.14" y="226.20" width="1.40" height="1.40" fill="#d6222e"/>
<rect x="149.67" y="230.85" width="1.40" height="1.40" fill="#d6222e"/>
<rect x="145.11" y="236.72" width="1.40" height="1.40" fill="#d6222e"/>
<rect x="145.59" y="240.67" width="1.40" height="1.40" fill="#d6222e"/>
<rect x="144.91" y="255.92" width="1.40" height="1.40" fill="#d6222e"/>
<rect x="147.19" y="235.55" width="1.40" height="1.40" fill="#d6222e"/>
<rect x="141.73" y="240.24" width="1.40" height="1.40" fill="#d6222e"/>
<rect x="145.73" y="234.91" width="1.40" height="1.40" fill="#d6222e"/>
<rect x="143.87" y="219.19" width="1.40" height="1.40" fill="#d6222e"/>
<rect x="142.95" y="232.86" width="1.40" height="1.40" fill="#d6222e"/>
<rect x="143.62" y="230.32" width="1.40" height="1.40" fill="#d6222e"/>
<rect x="142.01" y="230.70" width="1.40" height="1.40" fill="#d6222e"/>
<rect x="144.48" y="250.45" width="1.40" height="1.40" fill="#d6222e"/>
<rect x="146.46" y="231.77" width="1.40" height="1.40" fill="#d6222e"/>
<rect x="141.46" y="227.30" width="1.40" height="1.40" fill="#d6222e"/>
<rect x="143.96" y="235.09" width="1.40" height="1.40" fill="#d6222e"/>
<rect x="144.12" y="241.85" width="1.40" height="1.40" fill="#d6222e"/>
<rect x="148.44" y="228.40" width="1.40" height="1.40" fill="#d6222e"/>
<rect x="147.80" y="237.39" width="1.40" height="1.40" fill="#d6222e"/>
<rect x="147.02" y="225.15" width="1.40" height="1.40" fill="#d6222e"/>
<rect x="145.20" y="223.25" width="1.40" height="1.40" fill="#d6222e"/>
<rect x="143.67" y="221.50" width="1.40" height="1.40" fill="#d6222e"/>
<rect x="142.25" y="236.73" width="1.40" height="1.40" fill="#d6222e"/>
<rect x="146.57" y="223.23" width="1.40" height="1.40" fill="#d6222e"/>
<rect x="144.20" y="246.91" width="1.40" height="1.40" fill="#d6222e"/>
<rect x="146.32" y="237.65" width="1.40" height="1.40" fill="#d6222e"/>
<rect x="145.62" y="226.27" width="1.40" height="1.40" fill="#d6222e"/>
<rect x="147.92" y="224.04" width="1.40" height="1.40" fill="#d6222e"/>
<rect x="146.93" y="227.69" width="1.40" height="1.40" fill="#d6222e"/>
<rect x="143.72" y="228.93" width="1.40" height="1.40" fill="#d6222e"/>
<rect x="148.51" y="232.42" width="1.40" height="1.40" fill="#d6222e"/>
<rect x="142.48" y="225.69" width="1.40" height="1.40" fill="#d6222e"/>
<rect x="144.88" y="224.73" width="1.40" height="1.40" fill="#d6222e"/>
<rect x="140.67" y="232.09" width="1.40" height="1.40" fill="#d6222e"/>
<rect x="145.35" y="220.46" width="1.40" height="1.40" fill="#d6222e"/>
<rect x="146.01" y="230.49" width="1.40" height="1.40" fill="#d6222e"/>
<rect x="142.92" y="241.06" width="1.40" height="1.40" fill="#d6222e"/>
<rect x="148.19" y="226.27" width="1.40" height="1.40" fill="#d6222e"/>
<rect x="140.85" y="236.12" width="1.40" height="1.40" fill="#d6222e"/>
<rect x="144.74" y="232.15" width="1.40" height="1.40" fill="#d6222e"/>
<rect x="145.22" y="239.34" width="1.40" height="1.40" fill="#d6222e"/>
<rect x="141.10" y="225.70" width="1.40" height="1.40" fill="#d6222e"/>
<rect x="145.55" y="254.13" width="1.40" height="1.40" fill="#d6222e"/>
<rect x="149.97" y="233.89" width="1.40" height="1.40" fill="#d6222e"/>
<rect x="140.18" y="233.82" width="1.40" height="1.40" fill="#d6222e"/>
<rect x="141.11" y="237.61" width="1.40" height="1.40" fill="#d6222e"/>
<rect x="140.68" y="228.72" width="1.40" height="1.40" fill="#d6222e"/>
<rect x="141.65" y="224.46" width="1.40" height="1.40" fill="#d6222e"/>
<rect x="145.06" y="229.29" width="1.40" height="1.40" fill="#d6222e"/>
<rect x="143.60" y="236.40" width="1.40" height="1.40" fill="#d6222e"/>
<rect x="142.86" y="227.44" width="1.40" height="1.40" fill="#d6222e"/>
<rect x="147.89" y="240.18" width="1.40" height="1.40" fill="#d6222e"/>
<rect x="149.79" y="228.90" width="1.40" height="1.40" fill="#d6222e"/>
<rect x="142.17" y="238.71" width="1.40" height="1.40" fill="#d6222e"/>
<rect x="143.87" y="240.02" width="1.40" height="1.40" fill="#d6222e"/>
<rect x="149.88" y="232.51" width="1.40" height="1.40" fill="#d6222e"/>
<line x1="109.50" y1="231.50" x2="109.50" y2="246.50" stroke="#474747" stroke-width="0.9" />
<line x1="106.20" y1="231.50" x2="112.80" y2="231.50" stroke="#474747" stroke-width="0.9" />
<line x1="106.20" y1="246.50" x2="112.80" y2="246.50" stroke="#474747" stroke-width="0.9" />
<line x1="104.00" y1="238.50" x2="115.00" y2="238.50" stroke="#474747" stroke-width="0.9" />
<line x1="127.50" y1="228.50" x2="127.50" y2="245.50" stroke="#474747" stroke-width="0.9" />
<line x1="124.70" y1="228.50" x2="130.30" y2="228.50" stroke="#474747" stroke-width="0.9" />
<line x1="124.70" y1="245.50" x2="130.30" y2="245.50" stroke="#474747" stroke-width="0.9" />
<line x1="124.10" y1="235.50" x2="130.90" y2="235.50" stroke="#474747" stroke-width="0.9" />
<line x1="106.30" y1="164.70" x2="147.70" y2="164.70" stroke="#444" stroke-width="1.3" />
<circle cx="123.20" cy="161.20" r="1.05" fill="#444"/>
<circle cx="127.00" cy="161.20" r="1.05" fill="#444"/>
<circle cx="130.80" cy="161.20" r="1.05" fill="#444"/>
<line x1="106.30" y1="178.50" x2="123.00" y2="178.50" stroke="#444" stroke-width="1.3" />
<text font-size="6" text-anchor="middle" fill="#4e4e4e" transform="translate(114.65,174.30) scale(0.9,1)">n.s.</text>
<line x1="130.00" y1="178.50" x2="148.00" y2="178.50" stroke="#444" stroke-width="1.3" />
<text font-size="6" text-anchor="middle" fill="#4e4e4e" transform="translate(139.00,175.20) scale(0.9,1)"><tspan font-style="italic">p</tspan> = 0.08</text>
<text font-size="8" text-anchor="middle" fill="#4e4e4e" transform="translate(78.50,236.00) rotate(-90) scale(0.8,1)">BSEEG score</text>
<text font-size="8" text-anchor="middle" fill="#4e4e4e" transform="translate(127.80,310.00) scale(0.83,1)">DOSS score</text>
<rect x="108.65" y="187.85" width="1.50" height="1.50" fill="#8c8c8c"/>
<text font-size="4.8" text-anchor="start" fill="#4e4e4e" transform="translate(111.90,190.30) scale(0.8,1)">2.33</text>
<rect x="145.05" y="183.55" width="1.50" height="1.50" fill="#d6222e"/>
<text font-size="4.8" text-anchor="start" fill="#4e4e4e" transform="translate(148.30,186.00) scale(0.8,1)">2.92</text>
<rect x="144.75" y="285.95" width="1.50" height="1.50" fill="#d6222e"/>
<text font-size="4.8" text-anchor="start" fill="#4e4e4e" transform="translate(148.00,288.40) scale(0.8,1)">−1.45</text>
<text font-size="7.5" text-anchor="start" fill="#4e4e4e" transform="translate(187.80,165.60) scale(0.875,1)">(d)</text>
<line x1="215.70" y1="181.40" x2="215.70" y2="291.15" stroke="#979797" stroke-width="1.1" />
<line x1="215.15" y1="290.60" x2="275.90" y2="290.60" stroke="#979797" stroke-width="1.1" />
<line x1="213.20" y1="200.20" x2="215.70" y2="200.20" stroke="#979797" stroke-width="1.1" />
<text font-size="8" text-anchor="end" fill="#4e4e4e" transform="translate(211.20,202.10) scale(0.875,1)">2.0</text>
<line x1="213.20" y1="232.40" x2="215.70" y2="232.40" stroke="#979797" stroke-width="1.1" />
<text font-size="8" text-anchor="end" fill="#4e4e4e" transform="translate(211.20,235.90) scale(0.875,1)">1.5</text>
<line x1="213.20" y1="264.90" x2="215.70" y2="264.90" stroke="#979797" stroke-width="1.1" />
<text font-size="8" text-anchor="end" fill="#4e4e4e" transform="translate(211.20,267.60) scale(0.875,1)">1.0</text>
<line x1="227.80" y1="290.60" x2="227.80" y2="293.10" stroke="#979797" stroke-width="1.1" />
<text font-size="8" text-anchor="middle" fill="#4e4e4e" transform="translate(227.80,301.00) scale(0.875,1)">0</text>
<line x1="246.10" y1="290.60" x2="246.10" y2="293.10" stroke="#979797" stroke-width="1.1" />
<text font-size="8" text-anchor="middle" fill="#4e4e4e" transform="translate(246.10,301.00) scale(0.875,1)">1–2</text>
<line x1="264.70" y1="290.60" x2="264.70" y2="293.10" stroke="#979797" stroke-width="1.1" />
<text font-size="8" text-anchor="middle" fill="#4e4e4e" transform="translate(264.70,301.00) scale(0.875,1)">3–</text>
<line x1="211.90" y1="283.50" x2="276.40" y2="283.50" stroke="#8a8a8a" stroke-width="0.9" stroke-dasharray="1.15 0.9"/>
<line x1="264.50" y1="223.50" x2="264.50" y2="237.50" stroke="#5a1a1e" stroke-width="0.9" />
<line x1="261.00" y1="223.50" x2="268.00" y2="223.50" stroke="#5a1a1e" stroke-width="0.9" />
<line x1="261.00" y1="237.50" x2="268.00" y2="237.50" stroke="#5a1a1e" stroke-width="0.9" />
<line x1="258.50" y1="229.50" x2="270.50" y2="229.50" stroke="#5a1a1e" stroke-width="0.9" />
<rect x="227.10" y="212.60" width="1.40" height="1.40" fill="#8c8c8c"/>
<rect x="227.10" y="215.80" width="1.40" height="1.40" fill="#8c8c8c"/>
<rect x="227.10" y="218.30" width="1.40" height="1.40" fill="#8c8c8c"/>
<rect x="227.10" y="264.30" width="1.40" height="1.40" fill="#8c8c8c"/>
<rect x="227.10" y="268.30" width="1.40" height="1.40" fill="#8c8c8c"/>
<rect x="224.77" y="230.74" width="1.40" height="1.40" fill="#8c8c8c"/>
<rect x="224.55" y="237.14" width="1.40" height="1.40" fill="#8c8c8c"/>
<rect x="226.83" y="223.96" width="1.40" height="1.40" fill="#8c8c8c"/>
<rect x="227.56" y="258.02" width="1.40" height="1.40" fill="#8c8c8c"/>
<rect x="226.17" y="251.91" width="1.40" height="1.40" fill="#8c8c8c"/>
<rect x="225.45" y="242.77" width="1.40" height="1.40" fill="#8c8c8c"/>
<rect x="225.19" y="228.21" width="1.40" height="1.40" fill="#8c8c8c"/>
<rect x="229.49" y="229.88" width="1.40" height="1.40" fill="#8c8c8c"/>
<rect x="227.82" y="254.46" width="1.40" height="1.40" fill="#8c8c8c"/>
<rect x="227.97" y="233.69" width="1.40" height="1.40" fill="#8c8c8c"/>
<rect x="228.48" y="250.58" width="1.40" height="1.40" fill="#8c8c8c"/>
<rect x="226.36" y="256.50" width="1.40" height="1.40" fill="#8c8c8c"/>
<rect x="228.18" y="245.53" width="1.40" height="1.40" fill="#8c8c8c"/>
<rect x="224.06" y="240.24" width="1.40" height="1.40" fill="#8c8c8c"/>
<rect x="225.91" y="253.80" width="1.40" height="1.40" fill="#8c8c8c"/>
<rect x="225.94" y="240.15" width="1.40" height="1.40" fill="#8c8c8c"/>
<rect x="226.79" y="261.19" width="1.40" height="1.40" fill="#8c8c8c"/>
<rect x="225.81" y="246.61" width="1.40" height="1.40" fill="#8c8c8c"/>
<rect x="228.93" y="235.53" width="1.40" height="1.40" fill="#8c8c8c"/>
<rect x="226.90" y="228.40" width="1.40" height="1.40" fill="#8c8c8c"/>
<rect x="226.73" y="222.03" width="1.40" height="1.40" fill="#8c8c8c"/>
<rect x="230.38" y="237.72" width="1.40" height="1.40" fill="#8c8c8c"/>
<rect x="225.05" y="233.04" width="1.40" height="1.40" fill="#8c8c8c"/>
<rect x="223.59" y="234.55" width="1.40" height="1.40" fill="#8c8c8c"/>
<rect x="225.40" y="248.37" width="1.40" height="1.40" fill="#8c8c8c"/>
<rect x="227.21" y="226.19" width="1.40" height="1.40" fill="#8c8c8c"/>
<rect x="226.57" y="230.97" width="1.40" height="1.40" fill="#8c8c8c"/>
<rect x="228.09" y="247.49" width="1.40" height="1.40" fill="#8c8c8c"/>
<rect x="229.77" y="232.03" width="1.40" height="1.40" fill="#8c8c8c"/>
<rect x="228.88" y="228.00" width="1.40" height="1.40" fill="#8c8c8c"/>
<rect x="230.09" y="242.97" width="1.40" height="1.40" fill="#8c8c8c"/>
<rect x="228.70" y="240.76" width="1.40" height="1.40" fill="#8c8c8c"/>
<rect x="229.95" y="233.83" width="1.40" height="1.40" fill="#8c8c8c"/>
<rect x="227.83" y="237.54" width="1.40" height="1.40" fill="#8c8c8c"/>
<rect x="225.54" y="225.17" width="1.40" height="1.40" fill="#8c8c8c"/>
<rect x="228.50" y="243.70" width="1.40" height="1.40" fill="#8c8c8c"/>
<rect x="224.14" y="245.30" width="1.40" height="1.40" fill="#8c8c8c"/>
<rect x="228.36" y="252.56" width="1.40" height="1.40" fill="#8c8c8c"/>
<rect x="228.62" y="224.77" width="1.40" height="1.40" fill="#8c8c8c"/>
<rect x="226.78" y="234.92" width="1.40" height="1.40" fill="#8c8c8c"/>
<rect x="225.19" y="250.29" width="1.40" height="1.40" fill="#8c8c8c"/>
<rect x="228.82" y="238.96" width="1.40" height="1.40" fill="#8c8c8c"/>
<rect x="226.79" y="249.45" width="1.40" height="1.40" fill="#8c8c8c"/>
<rect x="230.71" y="240.16" width="1.40" height="1.40" fill="#8c8c8c"/>
<rect x="226.44" y="244.80" width="1.40" height="1.40" fill="#8c8c8c"/>
<rect x="226.86" y="241.69" width="1.40" height="1.40" fill="#8c8c8c"/>
<rect x="230.08" y="245.11" width="1.40" height="1.40" fill="#8c8c8c"/>
<rect x="230.68" y="235.97" width="1.40" height="1.40" fill="#8c8c8c"/>
<rect x="223.41" y="243.29" width="1.40" height="1.40" fill="#8c8c8c"/>
<rect x="245.40" y="217.80" width="1.40" height="1.40" fill="#47709f"/>
<rect x="245.40" y="219.30" width="1.40" height="1.40" fill="#47709f"/>
<rect x="246.90" y="227.30" width="1.40" height="1.40" fill="#47709f"/>
<rect x="243.90" y="230.30" width="1.40" height="1.40" fill="#47709f"/>
<rect x="246.90" y="235.30" width="1.40" height="1.40" fill="#47709f"/>
<rect x="245.40" y="239.80" width="1.40" height="1.40" fill="#47709f"/>
<rect x="243.90" y="243.30" width="1.40" height="1.40" fill="#47709f"/>
<rect x="245.40" y="251.30" width="1.40" height="1.40" fill="#47709f"/>
<rect x="245.40" y="261.30" width="1.40" height="1.40" fill="#47709f"/>
<rect x="262.70" y="216.10" width="1.40" height="1.40" fill="#d6222e"/>
<rect x="264.00" y="215.10" width="1.40" height="1.40" fill="#d6222e"/>
<rect x="265.30" y="216.10" width="1.40" height="1.40" fill="#d6222e"/>
<rect x="264.53" y="248.38" width="1.40" height="1.40" fill="#d6222e"/>
<rect x="262.21" y="237.47" width="1.40" height="1.40" fill="#d6222e"/>
<rect x="264.33" y="220.32" width="1.40" height="1.40" fill="#d6222e"/>
<rect x="266.13" y="236.95" width="1.40" height="1.40" fill="#d6222e"/>
<rect x="266.88" y="233.51" width="1.40" height="1.40" fill="#d6222e"/>
<rect x="267.37" y="229.95" width="1.40" height="1.40" fill="#d6222e"/>
<rect x="263.84" y="246.14" width="1.40" height="1.40" fill="#d6222e"/>
<rect x="264.88" y="239.36" width="1.40" height="1.40" fill="#d6222e"/>
<rect x="264.49" y="227.13" width="1.40" height="1.40" fill="#d6222e"/>
<rect x="263.76" y="250.19" width="1.40" height="1.40" fill="#d6222e"/>
<rect x="265.41" y="223.60" width="1.40" height="1.40" fill="#d6222e"/>
<rect x="262.57" y="223.62" width="1.40" height="1.40" fill="#d6222e"/>
<rect x="263.47" y="242.78" width="1.40" height="1.40" fill="#d6222e"/>
<rect x="264.10" y="253.98" width="1.40" height="1.40" fill="#d6222e"/>
<rect x="268.64" y="233.06" width="1.40" height="1.40" fill="#d6222e"/>
<rect x="264.02" y="252.50" width="1.40" height="1.40" fill="#d6222e"/>
<rect x="262.73" y="241.16" width="1.40" height="1.40" fill="#d6222e"/>
<rect x="260.67" y="231.35" width="1.40" height="1.40" fill="#d6222e"/>
<rect x="267.75" y="227.73" width="1.40" height="1.40" fill="#d6222e"/>
<rect x="263.18" y="247.84" width="1.40" height="1.40" fill="#d6222e"/>
<rect x="262.82" y="233.66" width="1.40" height="1.40" fill="#d6222e"/>
<rect x="266.94" y="224.79" width="1.40" height="1.40" fill="#d6222e"/>
<rect x="263.73" y="222.21" width="1.40" height="1.40" fill="#d6222e"/>
<rect x="264.82" y="244.03" width="1.40" height="1.40" fill="#d6222e"/>
<rect x="259.66" y="234.78" width="1.40" height="1.40" fill="#d6222e"/>
<rect x="260.37" y="226.39" width="1.40" height="1.40" fill="#d6222e"/>
<rect x="261.39" y="233.08" width="1.40" height="1.40" fill="#d6222e"/>
<rect x="267.89" y="236.28" width="1.40" height="1.40" fill="#d6222e"/>
<rect x="262.99" y="229.32" width="1.40" height="1.40" fill="#d6222e"/>
<rect x="258.53" y="230.59" width="1.40" height="1.40" fill="#d6222e"/>
<rect x="259.93" y="236.21" width="1.40" height="1.40" fill="#d6222e"/>
<rect x="263.78" y="237.71" width="1.40" height="1.40" fill="#d6222e"/>
<rect x="264.82" y="225.43" width="1.40" height="1.40" fill="#d6222e"/>
<rect x="259.22" y="233.42" width="1.40" height="1.40" fill="#d6222e"/>
<rect x="264.27" y="255.45" width="1.40" height="1.40" fill="#d6222e"/>
<rect x="262.53" y="225.62" width="1.40" height="1.40" fill="#d6222e"/>
<rect x="264.82" y="228.81" width="1.40" height="1.40" fill="#d6222e"/>
<rect x="269.24" y="234.37" width="1.40" height="1.40" fill="#d6222e"/>
<rect x="263.68" y="230.69" width="1.40" height="1.40" fill="#d6222e"/>
<rect x="264.99" y="233.89" width="1.40" height="1.40" fill="#d6222e"/>
<rect x="259.86" y="229.21" width="1.40" height="1.40" fill="#d6222e"/>
<rect x="266.63" y="238.70" width="1.40" height="1.40" fill="#d6222e"/>
<rect x="265.13" y="241.25" width="1.40" height="1.40" fill="#d6222e"/>
<rect x="265.40" y="221.36" width="1.40" height="1.40" fill="#d6222e"/>
<rect x="261.62" y="235.80" width="1.40" height="1.40" fill="#d6222e"/>
<rect x="263.29" y="239.48" width="1.40" height="1.40" fill="#d6222e"/>
<rect x="261.99" y="227.73" width="1.40" height="1.40" fill="#d6222e"/>
<rect x="264.85" y="235.52" width="1.40" height="1.40" fill="#d6222e"/>
<rect x="261.36" y="229.23" width="1.40" height="1.40" fill="#d6222e"/>
<rect x="265.67" y="230.13" width="1.40" height="1.40" fill="#d6222e"/>
<rect x="265.78" y="231.57" width="1.40" height="1.40" fill="#d6222e"/>
<rect x="262.91" y="220.83" width="1.40" height="1.40" fill="#d6222e"/>
<rect x="266.71" y="226.50" width="1.40" height="1.40" fill="#d6222e"/>
<rect x="269.42" y="230.57" width="1.40" height="1.40" fill="#d6222e"/>
<rect x="268.84" y="228.75" width="1.40" height="1.40" fill="#d6222e"/>
<rect x="264.06" y="224.09" width="1.40" height="1.40" fill="#d6222e"/>
<rect x="263.21" y="244.60" width="1.40" height="1.40" fill="#d6222e"/>
<rect x="260.85" y="238.20" width="1.40" height="1.40" fill="#d6222e"/>
<rect x="261.04" y="224.86" width="1.40" height="1.40" fill="#d6222e"/>
<rect x="263.44" y="235.30" width="1.40" height="1.40" fill="#d6222e"/>
<rect x="259.05" y="227.59" width="1.40" height="1.40" fill="#d6222e"/>
<rect x="262.07" y="230.92" width="1.40" height="1.40" fill="#d6222e"/>
<rect x="266.09" y="228.17" width="1.40" height="1.40" fill="#d6222e"/>
<rect x="268.12" y="231.20" width="1.40" height="1.40" fill="#d6222e"/>
<rect x="267.17" y="234.91" width="1.40" height="1.40" fill="#d6222e"/>
<rect x="258.70" y="232.03" width="1.40" height="1.40" fill="#d6222e"/>
<rect x="263.18" y="232.11" width="1.40" height="1.40" fill="#d6222e"/>
<rect x="261.80" y="239.28" width="1.40" height="1.40" fill="#d6222e"/>
<line x1="227.50" y1="232.50" x2="227.50" y2="247.50" stroke="#474747" stroke-width="0.9" />
<line x1="224.50" y1="232.50" x2="230.50" y2="232.50" stroke="#474747" stroke-width="0.9" />
<line x1="224.50" y1="247.50" x2="230.50" y2="247.50" stroke="#474747" stroke-width="0.9" />
<line x1="223.10" y1="239.50" x2="231.90" y2="239.50" stroke="#474747" stroke-width="0.9" />
<line x1="246.50" y1="228.50" x2="246.50" y2="245.50" stroke="#474747" stroke-width="0.9" />
<line x1="243.70" y1="228.50" x2="249.30" y2="228.50" stroke="#474747" stroke-width="0.9" />
<line x1="243.70" y1="245.50" x2="249.30" y2="245.50" stroke="#474747" stroke-width="0.9" />
<line x1="243.50" y1="233.50" x2="249.50" y2="233.50" stroke="#474747" stroke-width="0.9" />
<line x1="225.00" y1="188.20" x2="266.00" y2="188.20" stroke="#444" stroke-width="1.3" />
<circle cx="241.70" cy="184.40" r="1.05" fill="#444"/>
<circle cx="245.50" cy="184.40" r="1.05" fill="#444"/>
<circle cx="249.30" cy="184.40" r="1.05" fill="#444"/>
<line x1="225.00" y1="201.90" x2="241.60" y2="201.90" stroke="#444" stroke-width="1.3" />
<text font-size="6" text-anchor="middle" fill="#4e4e4e" transform="translate(233.30,198.00) scale(0.9,1)">n.s.</text>
<line x1="250.10" y1="201.90" x2="266.00" y2="201.90" stroke="#444" stroke-width="1.3" />
<text font-size="6" text-anchor="middle" fill="#4e4e4e" transform="translate(258.05,198.00) scale(0.9,1)">n.s.</text>
<text font-size="8" text-anchor="middle" fill="#4e4e4e" transform="translate(196.80,235.70) rotate(-90) scale(0.8,1)">BSEEG score</text>
<text font-size="8" text-anchor="middle" fill="#4e4e4e" transform="translate(246.40,310.00) scale(0.83,1)">DOSS score</text>
<text font-size="4.2" text-anchor="start" fill="#4e4e4e" transform="translate(267.60,287.80) scale(0.85,1)">−1.45</text>

</svg></body></html>
